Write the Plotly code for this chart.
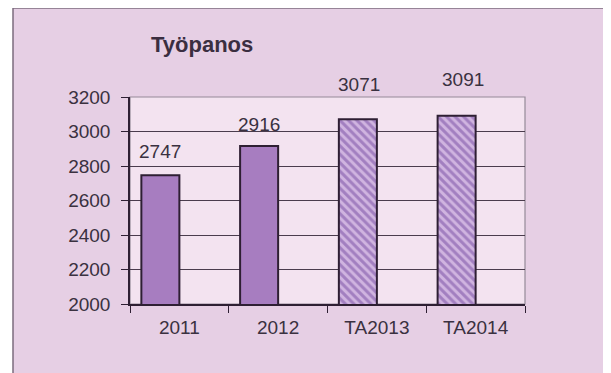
import plotly.graph_objects as go

# ---- data ----
categories = ["2011", "2012", "TA2013", "TA2014"]
values = [2747, 2916, 3071, 3091]
is_forecast = [False, False, True, True]
y_ticks = [2000, 2200, 2400, 2600, 2800, 3000, 3200]
title_text = "Työpanos"

# ---- style ----
label_yshift = [24, 21, 35, 36]
label_xshift = [-19, -19, -18, -13]
FONT = "Liberation Sans, Arial, sans-serif"
TXT = "#3a3140"
OUTER_BG = "#e6cfe4"
PLOT_BG = "#f3e3f0"
SOLID = "#a77dc0"
HATCH_BG = "#d0b4e0"
HATCH_FG = "#a27fc0"
EDGE = "#2e1f33"
FS = 19

fig = go.Figure()

solid_idx = [i for i, f in enumerate(is_forecast) if not f]
fc_idx = [i for i, f in enumerate(is_forecast) if f]

fig.add_trace(go.Bar(
    x=[categories[i] for i in solid_idx],
    y=[values[i] for i in solid_idx],
    width=0.385, offset=-0.385,
    marker=dict(color=SOLID, line=dict(color=EDGE, width=2)),
    hoverinfo="x+y",
))
fig.add_trace(go.Bar(
    x=[categories[i] for i in fc_idx],
    y=[values[i] for i in fc_idx],
    width=0.385, offset=-0.385,
    marker=dict(color=HATCH_BG, line=dict(color=EDGE, width=2),
                pattern=dict(shape="\\", bgcolor=HATCH_BG, fgcolor=HATCH_FG,
                             size=6, solidity=0.5, fillmode="replace")),
    hoverinfo="x+y",
))

for i, v in enumerate(values):
    # category axis: annotation x given as category index
    fig.add_annotation(x=i, y=v, text=str(v), showarrow=False,
                       xref="x", yref="y", yanchor="middle",
                       yshift=label_yshift[i], xshift=label_xshift[i],
                       font=dict(family=FONT, size=FS, color=TXT))

# background box and plot area
fig.add_shape(type="rect", xref="paper", yref="paper",
              x0=-0.2962, x1=1.2051, y0=-0.4, y1=1.43,
              fillcolor=OUTER_BG, line=dict(color="#7c6c7e", width=1.5),
              layer="below")
fig.add_shape(type="rect", xref="paper", yref="paper",
              x0=0, x1=1, y0=0, y1=1,
              fillcolor=PLOT_BG, line=dict(color="#958a98", width=1.2),
              layer="below")

fig.add_annotation(text=title_text, xref="paper", yref="paper",
                   x=0.048, y=1.255, xanchor="left", yanchor="middle",
                   showarrow=False,
                   font=dict(family=FONT, size=22, color="#3a2e40", weight="bold"))

# page body has an 8px default margin: shrink figure and shift margins to match
fig.update_layout(
    width=603, height=365,
    margin=dict(l=122, r=86, t=89, b=69),
    paper_bgcolor="white",
    plot_bgcolor="rgba(0,0,0,0)",
    showlegend=False,
    barmode="overlay",
    font=dict(family=FONT, size=FS, color=TXT),
)
fig.update_xaxes(
    type="category", categoryorder="array", categoryarray=categories,
    range=[-0.5, len(categories) - 0.5],
    tickson="boundaries", ticks="outside", ticklen=7, tickcolor=EDGE,
    showline=True, linecolor=EDGE, linewidth=1.5, showgrid=False,
    tickangle=0,
    tickfont=dict(family=FONT, size=FS, color=TXT), ticklabelstandoff=5,
)
fig.update_yaxes(
    range=[2000, 3200], tickvals=y_ticks, ticks="outside", ticklen=7,
    tickcolor=EDGE, showline=True, linecolor=EDGE, linewidth=1.5,
    showgrid=True, gridcolor="#4a3c4d", gridwidth=1.3, zeroline=False,
    tickfont=dict(family=FONT, size=FS, color=TXT), ticklabelstandoff=7,
)

fig.write_html("out.html")
